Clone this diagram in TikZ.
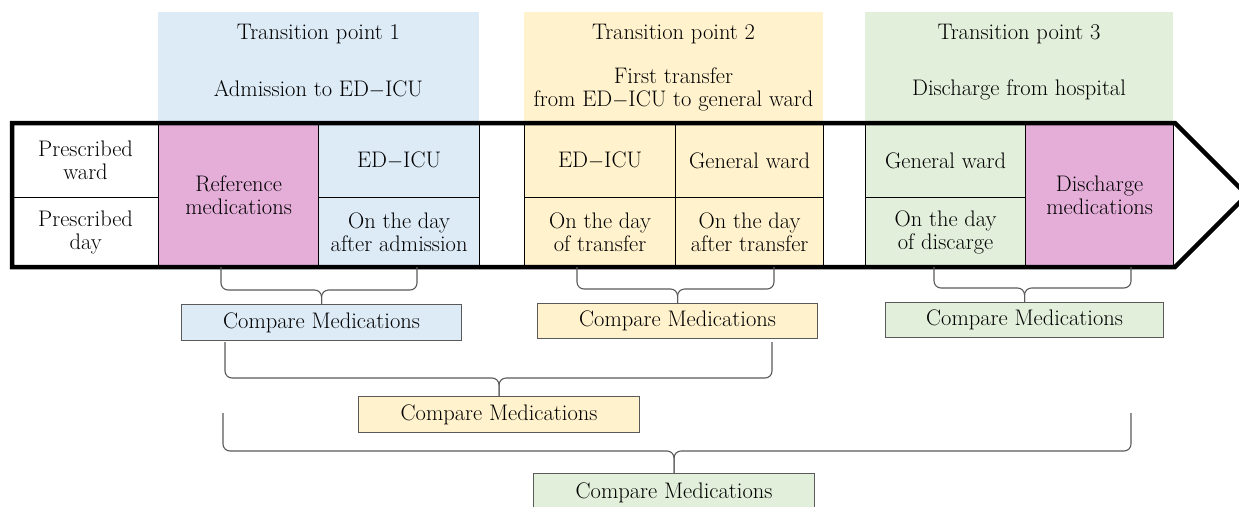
\documentclass[tikz,border=0pt]{standalone}
\usepackage{fontspec}
\usetikzlibrary{calc}
\definecolor{cblue}{HTML}{DDEBF7}
\definecolor{cyel}{HTML}{FFF2CC}
\definecolor{cgreen}{HTML}{E2EFDA}
\definecolor{cpink}{HTML}{E4AED9}
\definecolor{cgray}{HTML}{5A5A5A}
\begin{document}
\begin{tikzpicture}[x=1pt,y=-1pt,
  txt/.style={font=\fontsize{22.5}{23}\selectfont, align=center, inner sep=0pt},
  cell/.style={txt, draw=black, line width=1.2pt, anchor=north west},
  hdr/.style={fill=#1, draw=none, anchor=north west, inner sep=0pt},
  cmpbox/.style={txt, fill=#1, draw=cgray, line width=1.1pt, anchor=north west},
  bracestyle/.style={draw=cgray, line width=1.1pt, rounded corners=7pt}
]
\useasboundingbox (0,0) rectangle (1239,506);
\clip (0,0) rectangle (1239,506);
\fill[white] (0,0) rectangle (1239,506);

% header boxes
\node[hdr=cblue, minimum width=321pt, minimum height=115pt] (tp1) at (158,12) {};
\node[hdr=cyel, minimum width=299pt, minimum height=115pt] (tp2) at (524,12) {};
\node[hdr=cgreen, minimum width=308pt, minimum height=115pt] (tp3) at (865,12) {};
\node[txt] (tp1a) at (318.5,34) {Transition point 1};
\node[txt] (tp1b) at (318.5,89) {Admission to ED$-$ICU};
\node[txt] (tp2a) at (673.5,34) {Transition point 2};
\node[txt] (tp2b) at (673.5,89.5) {First transfer\\from ED$-$ICU to general ward};
\node[txt] (tp3a) at (1019,34) {Transition point 3};
\node[txt] (tp3b) at (1019,90) {Discharge from hospital};

% table cells
\node[cell, fill=white, minimum width=146pt, minimum height=74pt] (lab1) at (12,123) {Prescribed\\ward};
\node[cell, fill=white, minimum width=146pt, minimum height=70pt] (lab2) at (12,197) {Prescribed\\day};
\node[cell, fill=cpink, minimum width=160pt, minimum height=144pt] (ref) at (158,123) {Reference\\medications};
\node[cell, fill=cblue, minimum width=161pt, minimum height=74pt] (c1a) at (318,123) {ED$-$ICU};
\node[cell, fill=cblue, minimum width=161pt, minimum height=70pt] (c1b) at (318,197) {On the day\\after admission};
\node[cell, fill=white, minimum width=45pt, minimum height=144pt] (gap1) at (479,123) {};
\node[cell, fill=cyel, minimum width=151pt, minimum height=74pt] (c2a) at (524,123) {ED$-$ICU};
\node[cell, fill=cyel, minimum width=151pt, minimum height=70pt] (c2b) at (524,197) {On the day\\of transfer};
\node[cell, fill=cyel, minimum width=148pt, minimum height=74pt] (c2c) at (675,123) {General ward};
\node[cell, fill=cyel, minimum width=148pt, minimum height=70pt] (c2d) at (675,197) {On the day\\after transfer};
\node[cell, fill=white, minimum width=42pt, minimum height=144pt] (gap2) at (823,123) {};
\node[cell, fill=cgreen, minimum width=160pt, minimum height=74pt] (c3a) at (865,123) {General ward};
\node[cell, fill=cgreen, minimum width=160pt, minimum height=70pt] (c3b) at (865,197) {On the day\\of discarge};
\node[cell, fill=cpink, minimum width=148pt, minimum height=144pt] (dis) at (1025,123) {Discharge\\medications};

% arrow outline
\draw[line width=4.5pt, line join=miter] (12,123) -- (1175,123) -- (1247,195) -- (1175,267) -- (12,267) -- cycle;

% compare boxes
\node[cmpbox=cblue, minimum width=280pt, minimum height=36pt] (cmp1) at (181,304) {Compare Medications};
\node[cmpbox=cyel, minimum width=280pt, minimum height=35pt] (cmp2) at (537,303) {Compare Medications};
\node[cmpbox=cgreen, minimum width=278pt, minimum height=35pt] (cmp3) at (885,302) {Compare Medications};
\node[cmpbox=cyel, minimum width=281pt, minimum height=36pt] (cmpA) at (358,396) {Compare Medications};
\node[cmpbox=cgreen, minimum width=281pt, minimum height=38pt] (cmpB) at (533,473) {Compare Medications};

% brace end points
\coordinate (b1l) at (221,267); \coordinate (b1r) at (417,267);
\coordinate (b2l) at (577,267); \coordinate (b2r) at (774,267);
\coordinate (b3l) at (934,267); \coordinate (b3r) at (1131,267);
\coordinate (bAl) at (225,342); \coordinate (bAr) at (772,342);
\coordinate (bBl) at (223,413); \coordinate (bBr) at (1131,413);

% braces
\draw[bracestyle] (b1l) -- ++(0,23) -| (cmp1.north);
\draw[bracestyle] (b1r) -- ++(0,23) -| (cmp1.north);
\draw[bracestyle] (b2l) -- ++(0,22) -| (cmp2.north);
\draw[bracestyle] (b2r) -- ++(0,22) -| (cmp2.north);
\draw[bracestyle] (b3l) -- ++(0,21) -| (cmp3.north);
\draw[bracestyle] (b3r) -- ++(0,21) -| (cmp3.north);
\draw[bracestyle] (bAl) -- ++(0,36) -| (cmpA.north);
\draw[bracestyle] (bAr) -- ++(0,36) -| (cmpA.north);
\draw[bracestyle] (bBl) -- ++(0,38) -| (cmpB.north);
\draw[bracestyle] (bBr) -- ++(0,38) -| (cmpB.north);
\end{tikzpicture}
\end{document}
